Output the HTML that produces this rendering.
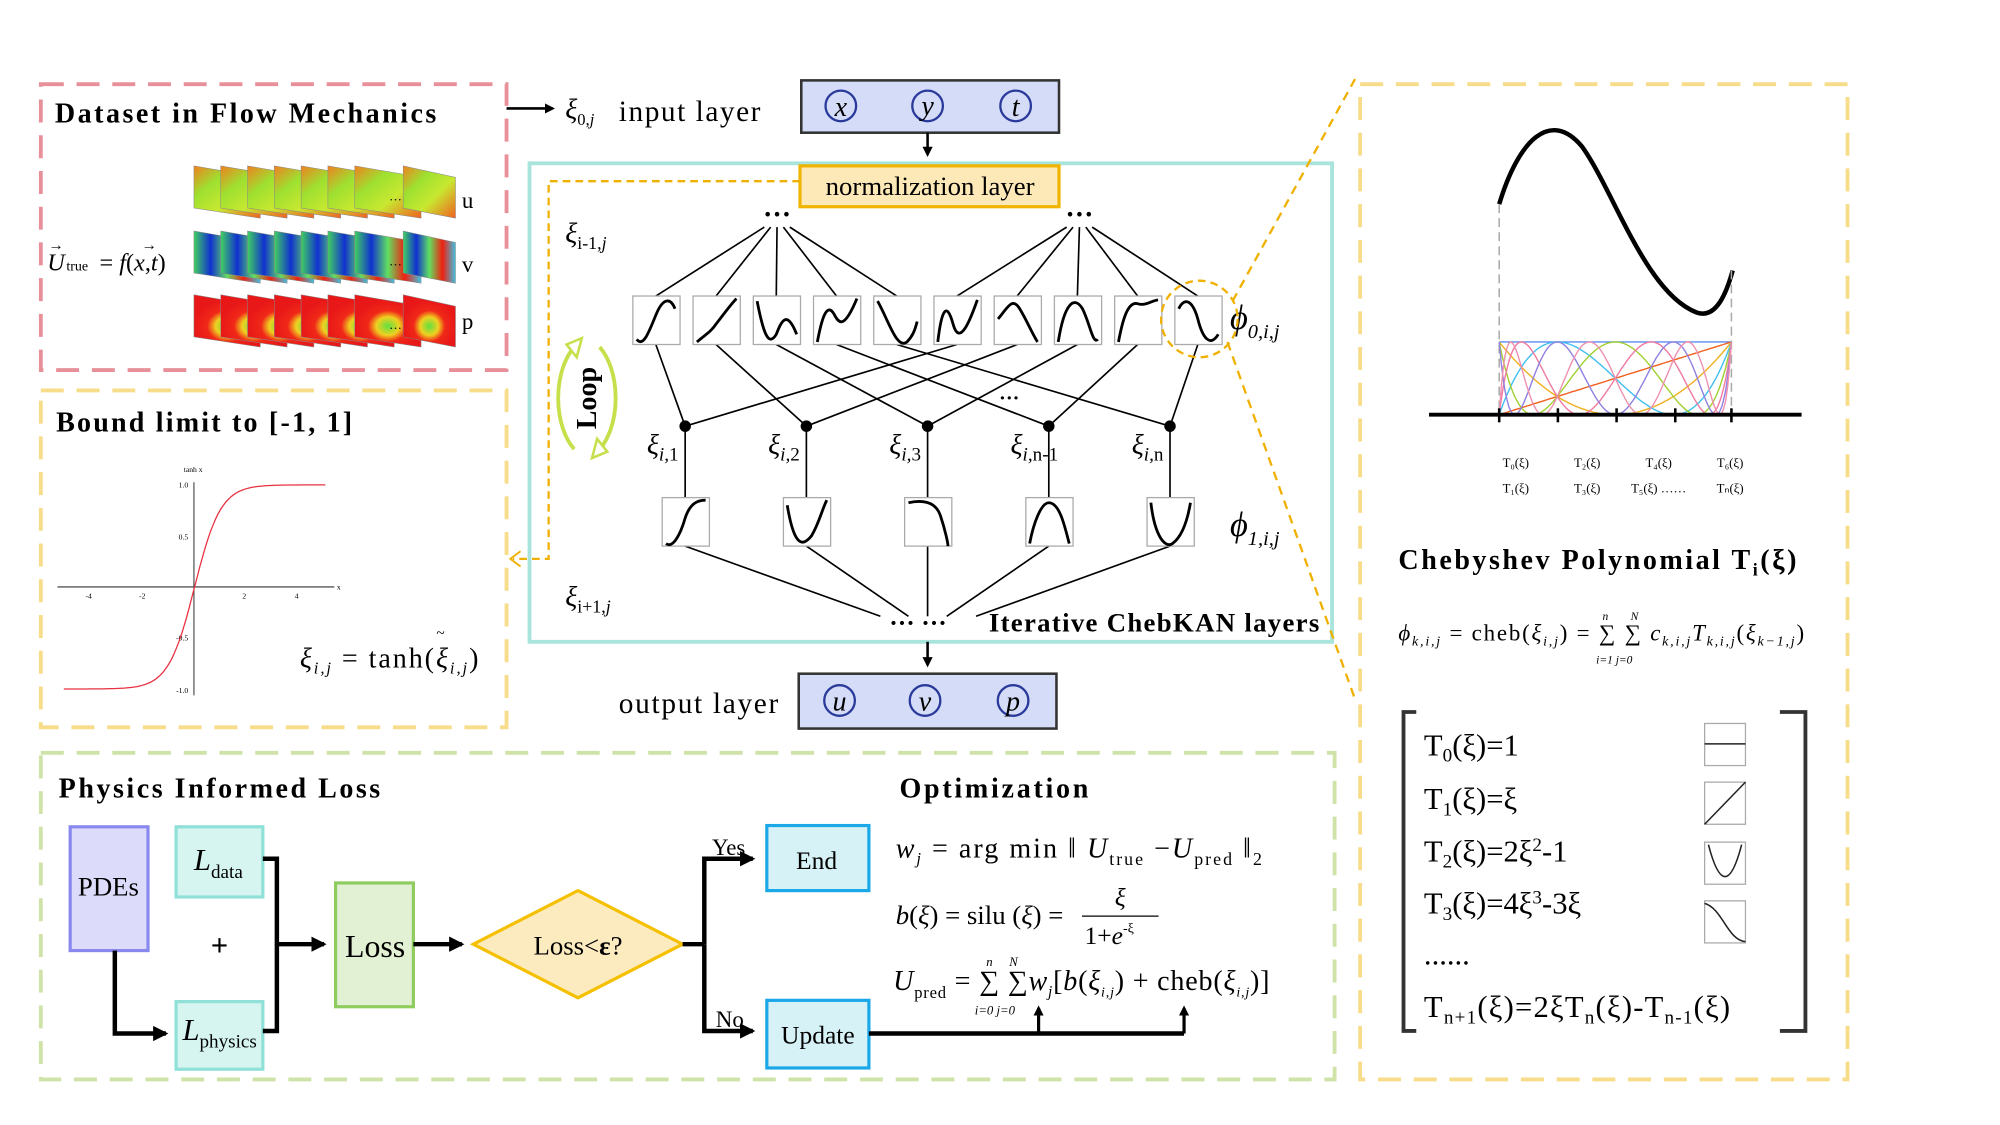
<!DOCTYPE html>
<html><head><meta charset="utf-8"><style>
html,body{margin:0;padding:0;background:#fff;}
svg{display:block;}
text{font-family:"Liberation Serif",serif;fill:#000;}
.b{font-weight:bold;}
.i{font-style:italic;}
</style></head><body>
<svg id="s" width="2000" height="1125" viewBox="0 0 1567.5 881.7" preserveAspectRatio="none" xmlns="http://www.w3.org/2000/svg">
<defs>
<marker id="ah" markerWidth="8" markerHeight="8" refX="6" refY="4" orient="auto" markerUnits="userSpaceOnUse"><path d="M0,0 L8,4 L0,8 Z" fill="#000"/></marker>
<marker id="ahb" markerWidth="12" markerHeight="12" refX="10" refY="6" orient="auto" markerUnits="userSpaceOnUse"><path d="M0,0 L12,6 L0,12 Z" fill="#000"/></marker>
<linearGradient id="gu" x1="0" x2="1" y1="0" y2="1"><stop offset="0" stop-color="#f08020"/><stop offset="0.3" stop-color="#9ee030"/><stop offset="0.6" stop-color="#c8e830"/><stop offset="1" stop-color="#f06020"/></linearGradient>
<linearGradient id="gv" x1="0" x2="1"><stop offset="0" stop-color="#40d060"/><stop offset="0.25" stop-color="#1030d0"/><stop offset="0.5" stop-color="#60e060"/><stop offset="0.75" stop-color="#f02010"/><stop offset="1" stop-color="#40c0e0"/></linearGradient>
<radialGradient id="gp" cx="0.5" cy="0.6" r="0.5"><stop offset="0" stop-color="#60e040"/><stop offset="0.35" stop-color="#f0d020"/><stop offset="0.6" stop-color="#f02818"/><stop offset="1" stop-color="#e81818"/></radialGradient>
</defs>

<rect x="32" y="66" width="365" height="224" fill="none" stroke="#e8909a" stroke-width="3" stroke-dasharray="18 10"/>
<rect x="32" y="306" width="365" height="264" fill="none" stroke="#f7dc8a" stroke-width="3" stroke-dasharray="18 10"/>
<rect x="32" y="590" width="1014" height="256" fill="none" stroke="#cfe3a8" stroke-width="3" stroke-dasharray="18 10"/>
<rect x="1066" y="66" width="382" height="780" fill="none" stroke="#f7dc8a" stroke-width="3" stroke-dasharray="18 10"/>
<rect x="415" y="128" width="629" height="375" fill="none" stroke="#a8e4dc" stroke-width="3"/>

<text x="43" y="96" class="b" font-size="22" textLength="299" lengthAdjust="spacing">Dataset in Flow Mechanics</text>
<g id="frames"></g>
<text x="362" y="163" font-size="18">u</text>
<text x="362" y="213" font-size="18">v</text>
<text x="362" y="258" font-size="18">p</text>
<text x="37" y="212" font-size="19" class="i">U</text>
<text x="38" y="196" font-size="12">→</text>
<text x="52" y="212" font-size="11">true</text>
<text x="78" y="212" font-size="19">= <tspan class="i">f</tspan>(<tspan class="i">x</tspan>,<tspan class="i">t</tspan>)</text>
<text x="111" y="196" font-size="12">→</text>

<line x1="397" y1="85" x2="433" y2="85" stroke="#000" stroke-width="2" marker-end="url(#ah)"/>
<text x="443" y="93" font-size="22" class="i">ξ<tspan font-size="13" dy="5" font-style="normal">0,</tspan><tspan font-size="13">j</tspan></text>
<text x="485" y="95" font-size="23" textLength="111" lengthAdjust="spacing">input layer</text>
<rect x="628" y="63" width="202" height="41" fill="#d4dcf8" stroke="#333" stroke-width="2"/>
<g fill="none" stroke="#2a3a9a" stroke-width="1.8"><circle cx="659" cy="83" r="12"/><circle cx="727" cy="83" r="12"/><circle cx="796" cy="83" r="12"/></g>
<text x="659" y="91" font-size="22" class="i" text-anchor="middle">x</text>
<text x="727" y="90" font-size="22" class="i" text-anchor="middle">y</text>
<text x="796" y="91" font-size="22" class="i" text-anchor="middle">t</text>
<line x1="727" y1="104" x2="727" y2="121" stroke="#000" stroke-width="2" marker-end="url(#ah)"/>

<rect x="627" y="130" width="203" height="32" fill="#fde9b8" stroke="#f0b400" stroke-width="2.5"/>
<text x="729" y="153" font-size="21" text-anchor="middle">normalization layer</text>
<polyline points="627,142 430,142 430,438 402,438" fill="none" stroke="#f0b000" stroke-width="1.8" stroke-dasharray="6 4"/>
<path d="M408,432 L400,438 L408,444" fill="none" stroke="#f0b000" stroke-width="1.5"/>

<text x="443" y="190" font-size="22" class="i">ξ<tspan font-size="14" dy="5" font-style="normal">i-1,</tspan><tspan font-size="14">j</tspan></text>
<text x="443" y="475" font-size="22" class="i">ξ<tspan font-size="14" dy="5" font-style="normal">i+1,</tspan><tspan font-size="14">j</tspan></text>
<text x="609" y="175" font-size="22" class="b" text-anchor="middle">···</text>
<text x="846" y="175" font-size="22" class="b" text-anchor="middle">···</text>

<g id="net" stroke="#000" stroke-width="1.3" fill="none"></g>

<text x="783" y="317" font-size="16" class="b">···</text>
<text x="964" y="258" font-size="27" class="i">ϕ<tspan font-size="16" dy="7">0,i,j</tspan></text>
<text x="964" y="420" font-size="27" class="i">ϕ<tspan font-size="16" dy="7">1,i,j</tspan></text>
<circle cx="940" cy="250" r="30" fill="none" stroke="#f0b000" stroke-width="1.8" stroke-dasharray="6 4"/>
<line x1="966" y1="236" x2="1062" y2="62" stroke="#f0b000" stroke-width="1.8" stroke-dasharray="7 5"/>
<line x1="962" y1="268" x2="1062" y2="548" stroke="#f0b000" stroke-width="1.8" stroke-dasharray="7 5"/>

<g fill="none" stroke="#c5e04a" stroke-width="3">
<path d="M450,352 A28,48 0 0 1 450,272"/>
<path d="M470,272 A28,48 0 0 1 470,352"/>
</g>
<path d="M444,270 L456,265 L452,280 Z" fill="#fff" stroke="#c5e04a" stroke-width="2"/>
<path d="M476,354 L464,359 L468,344 Z" fill="#fff" stroke="#c5e04a" stroke-width="2"/>
<text transform="translate(467,312) rotate(-90)" font-size="22" class="b" text-anchor="middle">Loop</text>

<text x="697" y="495" font-size="20" class="b">··· ···</text>
<text x="775" y="495" font-size="21" class="b" textLength="259" lengthAdjust="spacing">Iterative ChebKAN layers</text>
<line x1="727" y1="503" x2="727" y2="521" stroke="#000" stroke-width="2" marker-end="url(#ah)"/>

<text x="485" y="559" font-size="23" textLength="125" lengthAdjust="spacing">output layer</text>
<rect x="626" y="528" width="202" height="43" fill="#d4dcf8" stroke="#333" stroke-width="2"/>
<g fill="none" stroke="#2a3a9a" stroke-width="1.8"><circle cx="658" cy="549" r="12"/><circle cx="725" cy="549" r="12"/><circle cx="794" cy="549" r="12"/></g>
<text x="658" y="557" font-size="22" class="i" text-anchor="middle">u</text>
<text x="725" y="557" font-size="22" class="i" text-anchor="middle">v</text>
<text x="794" y="557" font-size="22" class="i" text-anchor="middle">p</text>

<text x="44" y="338" class="b" font-size="22" textLength="232" lengthAdjust="spacing">Bound limit to [-1, 1]</text>
<g stroke="#333" stroke-width="0.8">
<line x1="45" y1="460" x2="262" y2="460"/><line x1="152" y1="378" x2="152" y2="545"/>
</g>
<g font-size="6" fill="#333"><text x="144" y="370">tanh x</text><text x="140" y="382">1.0</text><text x="140" y="423">0.5</text><text x="138" y="502">-0.5</text><text x="138" y="543">-1.0</text>
<text x="67" y="469">-4</text><text x="109" y="469">-2</text><text x="190" y="469">2</text><text x="231" y="469">4</text><text x="264" y="462">x</text></g>
<path id="tanh" fill="none" stroke="#e83040" stroke-width="1"/>
<text x="235" y="523" font-size="22" class="i" textLength="140" lengthAdjust="spacing">ξ<tspan font-size="13" dy="5">i,j</tspan><tspan dy="-5" font-style="normal"> = tanh(</tspan>ξ<tspan font-size="13" dy="5">i,j</tspan><tspan dy="-5" font-style="normal">)</tspan></text>
<text x="342" y="500" font-size="12">~</text>

<text x="46" y="625" class="b" font-size="22" textLength="252" lengthAdjust="spacing">Physics Informed Loss</text>
<text x="705" y="625" class="b" font-size="22" textLength="148" lengthAdjust="spacing">Optimization</text>
<rect x="55" y="648" width="61" height="97" fill="#dcdcfa" stroke="#8888ee" stroke-width="2.5"/>
<text x="85" y="702" font-size="21" text-anchor="middle">PDEs</text>
<rect x="138" y="648" width="68" height="55" fill="#d6f5f0" stroke="#8ee0d8" stroke-width="2.5"/>
<text x="152" y="682" font-size="24" class="i">L<tspan font-size="15" font-style="normal" dy="6">data</tspan></text>
<rect x="138" y="785" width="68" height="53" fill="#d6f5f0" stroke="#8ee0d8" stroke-width="2.5"/>
<text x="143" y="815" font-size="24" class="i">L<tspan font-size="15" font-style="normal" dy="6">physics</tspan></text>
<text x="172" y="749" font-size="24" class="b" text-anchor="middle">+</text>
<polyline points="90,745 90,810 130,810" fill="none" stroke="#000" stroke-width="3.5" marker-end="url(#ahb)"/>
<polyline points="206,673 217,673 217,808 206,808" fill="none" stroke="#000" stroke-width="3.5"/>
<line x1="217" y1="740" x2="254" y2="740" stroke="#000" stroke-width="3.5" marker-end="url(#ahb)"/>
<rect x="263" y="692" width="61" height="97" fill="#e2f0d4" stroke="#8fcc60" stroke-width="2.5"/>
<text x="294" y="750" font-size="25" text-anchor="middle">Loss</text>
<line x1="324" y1="740" x2="362" y2="740" stroke="#000" stroke-width="3.5" marker-end="url(#ahb)"/>
<polygon points="371,740 453,698 535,740 453,782" fill="#fdebc0" stroke="#f5c000" stroke-width="2.5"/>
<text x="453" y="748" font-size="21" text-anchor="middle">Loss&lt;<tspan class="b">ε</tspan>?</text>
<polyline points="535,740 552,740" stroke="#000" stroke-width="3.5"/>
<polyline points="552,740 552,673 590,673" fill="none" stroke="#000" stroke-width="3.5" marker-end="url(#ahb)"/>
<polyline points="552,740 552,808 590,808" fill="none" stroke="#000" stroke-width="3.5" marker-end="url(#ahb)"/>
<text x="558" y="670" font-size="18">Yes</text>
<text x="561" y="805" font-size="18">No</text>
<rect x="601" y="647" width="80" height="51" fill="#d6f2f6" stroke="#1aa8e8" stroke-width="2.5"/>
<text x="640" y="681" font-size="20" text-anchor="middle">End</text>
<rect x="601" y="784" width="80" height="53" fill="#d6f2f6" stroke="#1aa8e8" stroke-width="2.5"/>
<text x="641" y="818" font-size="20" text-anchor="middle">Update</text>
<polyline points="681,810 928,810" stroke="#000" stroke-width="3.5"/>
<line x1="814" y1="810" x2="814" y2="790" stroke="#000" stroke-width="2.5" marker-end="url(#ah)"/>
<line x1="928" y1="810" x2="928" y2="790" stroke="#000" stroke-width="2.5" marker-end="url(#ah)"/>

<text x="702" y="672" font-size="22" class="i" textLength="287" lengthAdjust="spacing">w<tspan font-size="13" dy="5">j</tspan><tspan dy="-5" font-style="normal"> = arg min  ‖ </tspan>U<tspan font-size="14" dy="6" font-style="normal">true</tspan><tspan dy="-6" font-style="normal"> −</tspan>U<tspan font-size="14" dy="6" font-style="normal">pred</tspan><tspan dy="-6" font-style="normal"> ‖</tspan><tspan font-size="14" dy="6" font-style="normal">2</tspan></text>
<text x="702" y="724" font-size="21" class="i">b<tspan font-style="normal">(</tspan>ξ<tspan font-style="normal">) = silu (</tspan>ξ<tspan font-style="normal">) =</tspan></text>
<text x="878" y="710" font-size="20" class="i" text-anchor="middle">ξ</text>
<line x1="848" y1="718" x2="908" y2="718" stroke="#000" stroke-width="1"/>
<text x="850" y="740" font-size="20">1+<tspan class="i">e</tspan><tspan font-size="11" dy="-9">-ξ</tspan></text>
<text x="700" y="776" font-size="22" class="i" textLength="295" lengthAdjust="spacing">U<tspan font-size="13" dy="6" font-style="normal">pred</tspan><tspan dy="-6" font-style="normal"> = ∑ ∑</tspan>w<tspan font-size="12" dy="5">j</tspan><tspan dy="-5" font-style="normal">[</tspan>b<tspan font-style="normal">(</tspan>ξ<tspan font-size="11" dy="5">i,j</tspan><tspan dy="-5" font-style="normal">) + cheb(</tspan>ξ<tspan font-size="11" dy="5">i,j</tspan><tspan dy="-5" font-style="normal">)]</tspan></text>
<g font-size="10" class="i"><text x="773" y="757">n</text><text x="791" y="757">N</text><text x="764" y="795">i=0 j=0</text></g>

<path d="M1175,160 C1190,110 1215,85 1240,115 C1265,150 1290,230 1330,245 C1345,250 1353,230 1358,212" fill="none" stroke="#000" stroke-width="3.5"/>
<g stroke="#aaa" stroke-width="1.2" stroke-dasharray="7 4"><line x1="1175" y1="160" x2="1175" y2="325"/><line x1="1357" y1="212" x2="1357" y2="325"/></g>
<g id="cheb" fill="none" stroke-width="1.1"></g>
<line x1="1120" y1="325" x2="1412" y2="325" stroke="#000" stroke-width="3"/>
<g stroke="#000" stroke-width="2"><line x1="1175" y1="320" x2="1175" y2="331"/><line x1="1221" y1="320" x2="1221" y2="331"/><line x1="1267" y1="320" x2="1267" y2="331"/><line x1="1313" y1="320" x2="1313" y2="331"/><line x1="1357" y1="320" x2="1357" y2="331"/></g>
<g font-size="10" text-anchor="middle"><text x="1188" y="366">T₀(ξ)</text><text x="1188" y="386">T₁(ξ)</text><text x="1244" y="366">T₂(ξ)</text><text x="1244" y="386">T₃(ξ)</text><text x="1300" y="366">T₄(ξ)</text><text x="1300" y="386">T₅(ξ) …… </text><text x="1356" y="366">T₆(ξ)</text><text x="1356" y="386">Tₙ(ξ)</text></g>
<text x="1096" y="446" class="b" font-size="22" textLength="312" lengthAdjust="spacing">Chebyshev Polynomial T<tspan font-size="14" dy="5">i</tspan><tspan dy="-5">(ξ)</tspan></text>
<text x="1096" y="502" font-size="18" textLength="318" lengthAdjust="spacing"><tspan class="i">ϕ</tspan><tspan font-size="11" dy="4" class="i">k,i,j</tspan><tspan dy="-4"> = cheb(</tspan><tspan class="i">ξ</tspan><tspan font-size="11" dy="4" class="i">i,j</tspan><tspan dy="-4">) = ∑ ∑ </tspan><tspan class="i">c</tspan><tspan font-size="11" dy="4" class="i">k,i,j</tspan><tspan dy="-4" class="i">T</tspan><tspan font-size="11" dy="4" class="i">k,i,j</tspan><tspan dy="-4">(</tspan><tspan class="i">ξ</tspan><tspan font-size="11" dy="4" class="i">k−1,j</tspan><tspan dy="-4">)</tspan></text>
<g font-size="9" class="i"><text x="1256" y="486">n</text><text x="1278" y="486">N</text><text x="1251" y="520">i=1 j=0</text></g>
<polyline points="1110,558 1100,558 1100,808 1110,808" fill="none" stroke="#333" stroke-width="3"/>
<polyline points="1395,558 1415,558 1415,808 1395,808" fill="none" stroke="#333" stroke-width="3"/>
<g font-size="24">
<text x="1116" y="592">T<tspan font-size="15" dy="5">0</tspan><tspan dy="-5">(ξ)=1</tspan></text>
<text x="1116" y="634">T<tspan font-size="15" dy="5">1</tspan><tspan dy="-5">(ξ)=ξ</tspan></text>
<text x="1116" y="675">T<tspan font-size="15" dy="5">2</tspan><tspan dy="-5">(ξ)=2ξ</tspan><tspan font-size="15" dy="-8">2</tspan><tspan dy="8">-1</tspan></text>
<text x="1116" y="716">T<tspan font-size="15" dy="5">3</tspan><tspan dy="-5">(ξ)=4ξ</tspan><tspan font-size="15" dy="-8">3</tspan><tspan dy="8">-3ξ</tspan></text>
<text x="1116" y="756">......</text>
<text x="1116" y="797" textLength="240" lengthAdjust="spacing">T<tspan font-size="15" dy="5">n+1</tspan><tspan dy="-5">(ξ)=2ξT</tspan><tspan font-size="15" dy="5">n</tspan><tspan dy="-5">(ξ)-T</tspan><tspan font-size="15" dy="5">n-1</tspan><tspan dy="-5">(ξ)</tspan></text>
</g>
<g fill="#fff" stroke="#aaa" stroke-width="1"><rect x="1336" y="567" width="32" height="33"/><rect x="1336" y="613" width="32" height="33"/><rect x="1336" y="660" width="32" height="33"/><rect x="1336" y="706" width="32" height="33"/></g>
<g fill="none" stroke="#222" stroke-width="1.2"><line x1="1336" y1="583" x2="1368" y2="583"/><line x1="1336" y1="646" x2="1368" y2="613"/><path d="M1339,662 Q1352,712 1365,662"/><path d="M1336,708 C1350,712 1354,737 1368,738"/></g>
</svg>
<script>
var NS="http://www.w3.org/2000/svg";
function el(p,t,a){var e=document.createElementNS(NS,t);for(var k in a)e.setAttribute(k,a[k]);p.appendChild(e);return e;}
var fr=document.getElementById('frames');
var rows=[[130,'url(#gu)'],[181,'url(#gv)'],[231,'url(#gp)']];
rows.forEach(function(r){var y=r[0];
 for(var i=0;i<7;i++){var x=152+i*21;
  el(fr,'polygon',{points:x+','+y+' '+(x+52)+','+(y+9)+' '+(x+52)+','+(y+41)+' '+x+','+(y+33),fill:r[1],stroke:'#888','stroke-width':0.4});}
 el(fr,'polygon',{points:'316,'+y+' 357,'+(y+9)+' 357,'+(y+41)+' 316,'+(y+33),fill:r[1],stroke:'#888','stroke-width':0.4});
 el(fr,'text',{x:305,y:y+27,'font-size':10}).textContent='…';
});
var d='';for(var i=0;i<=100;i++){var x=-5+i*0.1;var px=50+(x+5)*20.5;var py=460-Math.tanh(x)*80;d+=(i?'L':'M')+px.toFixed(1)+','+py.toFixed(1);}
document.getElementById('tanh').setAttribute('d',d);
var cg=document.getElementById('cheb');var cols=['#5b8cf0','#f06020','#f0b020','#40c0f0','#a0d030','#f07aa0','#9080e0','#f090b0'];
for(var n=0;n<8;n++){var dd='';for(var i=0;i<=120;i++){var x=-1+i/60;var t=Math.cos(n*Math.acos(Math.max(-1,Math.min(1,x))));var px=1175+(x+1)*91;var py=325-(t+1)/2*57;dd+=(i?'L':'M')+px.toFixed(1)+','+py.toFixed(1);}
el(cg,'path',{d:dd,stroke:cols[n]});}
var net=document.getElementById('net');
var bx=[]; for(var i=0;i<10;i++)bx.push(496+i*47.2);
var nx=[537,632,727,822,917];
function line(a,b,c,d){el(net,'line',{x1:a,y1:b,x2:c,y2:d});}
for(var i=0;i<5;i++){line(609-10+i*5,178,bx[i]+18,232);line(846-10+i*5,178,bx[i+5]+18,232);}
for(var i=0;i<5;i++){line(bx[i]+18,270,nx[i],334);line(bx[i+5]+18,270,nx[i],334);}
var bt=[690,712,727,742,765];
for(var i=0;i<5;i++){line(nx[i],334,nx[i],390);line(nx[i],428,bt[i],483);}
var shapes=["M3,34 C8,40 12,30 18,15 C24,0 30,2 33,10","M3,36 C10,30 14,28 18,22 C24,14 30,6 34,2","M3,4 C8,30 12,40 18,30 C22,20 26,10 34,30","M3,36 C6,20 10,4 16,14 C20,22 24,26 34,2","M3,4 C12,20 18,42 26,36 C30,32 32,28 34,20","M3,36 C6,10 10,4 15,22 C20,40 28,20 34,3","M3,18 C10,10 14,0 20,10 C26,20 30,30 34,36","M3,36 C8,4 16,0 22,10 C28,22 30,38 34,34","M3,36 C6,20 10,4 18,6 C24,8 28,4 34,3","M3,10 C8,0 14,4 18,18 C22,34 28,40 34,30"];
var lowShapes=["M3,36 C8,40 14,30 18,16 C22,4 28,2 34,2","M3,6 C8,36 14,40 22,30 C28,20 30,10 34,2","M3,4 C12,2 24,2 28,14 C32,26 34,36 34,38","M3,36 C6,20 12,4 18,4 C26,4 30,20 34,36","M3,4 C6,30 14,40 20,36 C28,30 32,16 34,4"];
for(var i=0;i<10;i++){var g=el(net,'g',{transform:'translate('+bx[i]+',232)'});
 el(g,'rect',{x:0,y:0,width:37,height:38,fill:'#fff',stroke:'#aaa','stroke-width':1});
 el(g,'path',{d:shapes[i],stroke:'#000','stroke-width':2.2,fill:'none'});}
for(var i=0;i<5;i++){var g=el(net,'g',{transform:'translate('+(nx[i]-18)+',390)'});
 el(g,'rect',{x:0,y:0,width:37,height:38,fill:'#fff',stroke:'#aaa','stroke-width':1});
 el(g,'path',{d:lowShapes[i],stroke:'#000','stroke-width':2.2,fill:'none'});}
var lbl=['1','2','3','n-1','n'];
for(var i=0;i<5;i++){el(net,'circle',{cx:nx[i],cy:334,r:4.5,fill:'#000',stroke:'none'});
 var t=el(net,'text',{x:nx[i]-30,y:356,'font-size':22,'font-style':'italic',fill:'#000',stroke:'none'});
 t.innerHTML='ξ<tspan font-size="15" dy="5">i,</tspan><tspan font-size="15" font-style="normal">'+lbl[i]+'</tspan>';}
</script>
</body></html>
